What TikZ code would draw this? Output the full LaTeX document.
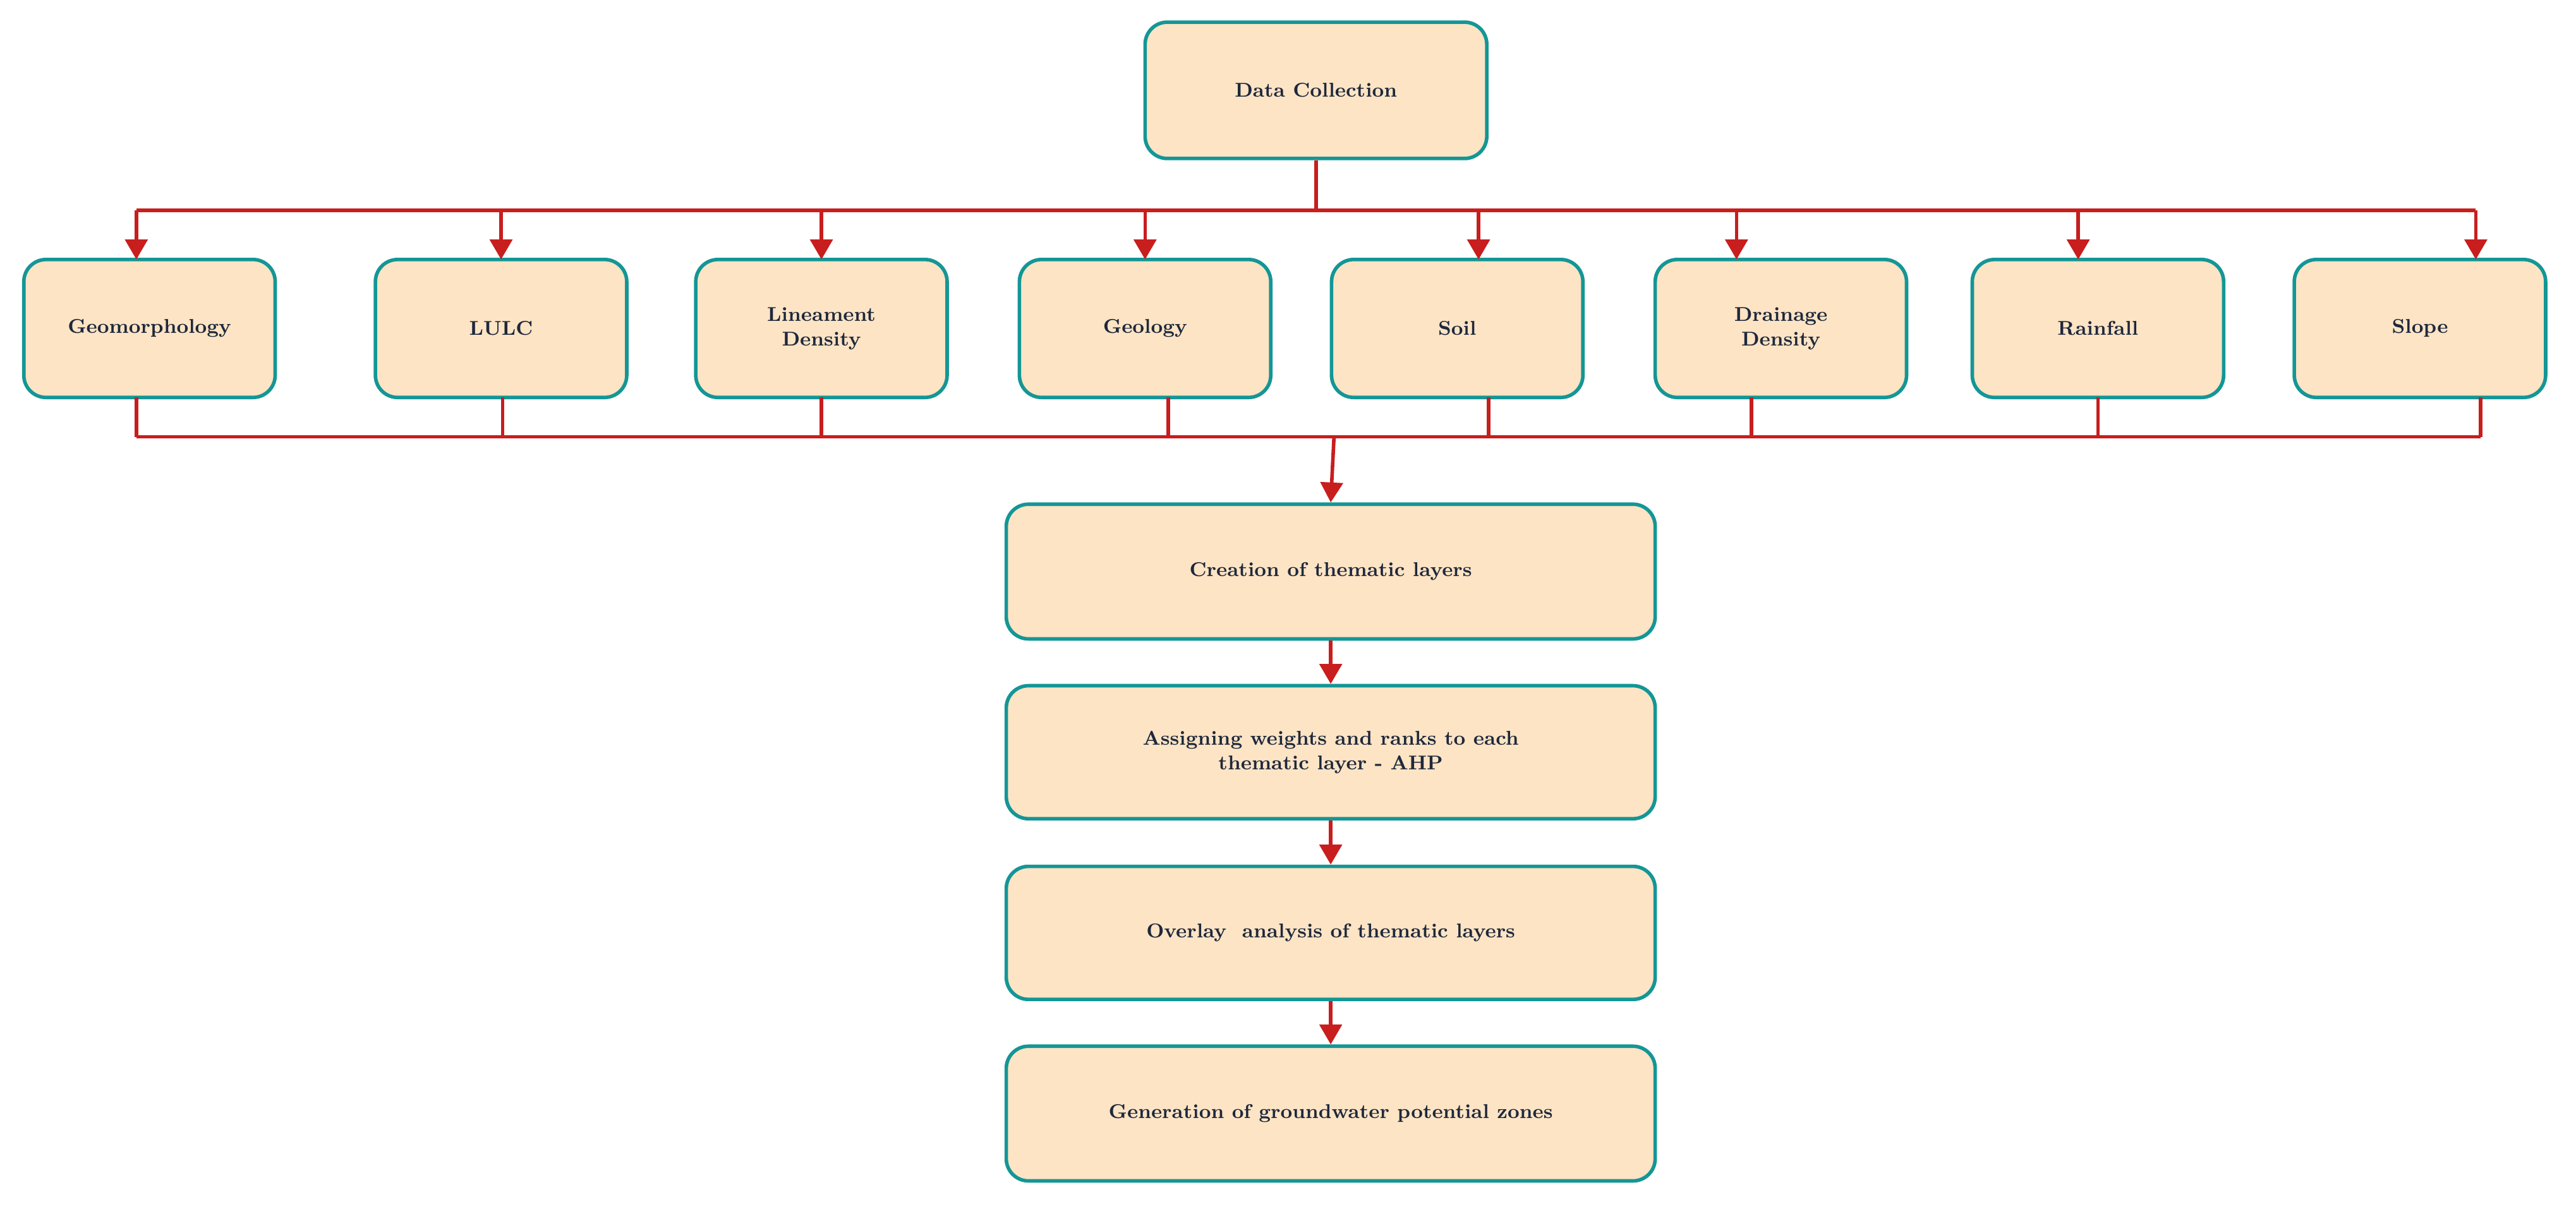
\documentclass[tikz,border=0pt]{standalone}
\usetikzlibrary{arrows.meta}
\definecolor{boxfill}{RGB}{253,228,196}
\definecolor{boxline}{RGB}{20,150,150}
\definecolor{linkred}{RGB}{200,30,30}
\definecolor{txt}{RGB}{30,40,60}
\tikzset{
  box/.style={draw=boxline,line width=1.6pt,fill=boxfill,rounded corners=10pt,
    align=center,font=\bfseries\small,text=txt,inner sep=2pt},
  link/.style={draw=linkred,line width=1.6pt},
  arr/.style={link,-{Triangle[length=9pt,width=10pt]}}
}
\begin{document}
\begin{tikzpicture}[x=0.026cm,y=-0.026cm]
  \useasboundingbox (0,0) rectangle (1568,736);
  % top
  \node [box,minimum width=208*0.026cm,minimum height=83*0.026cm] (data) at (801,55) {Data Collection};
  % thematic factors
  \foreach \name/\cx/\ax/\bx/\lbl in {geo/91/83/83/Geomorphology,lulc/305/305/306/LULC,
      lin/500/500/500/{Lineament\\Density},gel/697/697/711/Geology,soil/887/900/906/Soil,
      drn/1084/1057/1066/{Drainage\\Density},rain/1277/1265/1277/Rainfall,slope/1473/1507/1510/Slope}{
    \node [box,minimum width=153*0.026cm,minimum height=84*0.026cm] (\name) at (\cx,200) {\lbl};
    \coordinate (\name-a) at (\ax,128);
    \coordinate (\name-b) at (\bx,266);
    \draw [arr] (\name-a) -- (\ax,158);
    \draw [link] (\bx,242) -- (\name-b);
  }
  \draw [link] (data.south) -- (801,128);
  \draw [link] (geo-a) -- (slope-a);
  \draw [link] (geo-b) -- (slope-b);
  % process chain
  \node [box,minimum width=395*0.026cm,minimum height=82*0.026cm] (layers) at (810,348) {Creation of thematic layers};
  \node [box,minimum width=395*0.026cm,minimum height=81*0.026cm] (ahp) at (810,458) {Assigning weights and ranks to each\\thematic layer - AHP};
  \node [box,minimum width=395*0.026cm,minimum height=81*0.026cm] (overlay) at (810,568) {Overlay\ \ analysis of thematic layers};
  \node [box,minimum width=395*0.026cm,minimum height=82*0.026cm] (gwpz) at (810,678) {Generation of groundwater potential zones};
  \coordinate (join) at (812,266);
  \draw [arr] (join) -- (layers.north);
  \draw [arr] (layers) -- (ahp);
  \draw [arr] (ahp) -- (overlay);
  \draw [arr] (overlay) -- (gwpz);
\end{tikzpicture}
\end{document}
